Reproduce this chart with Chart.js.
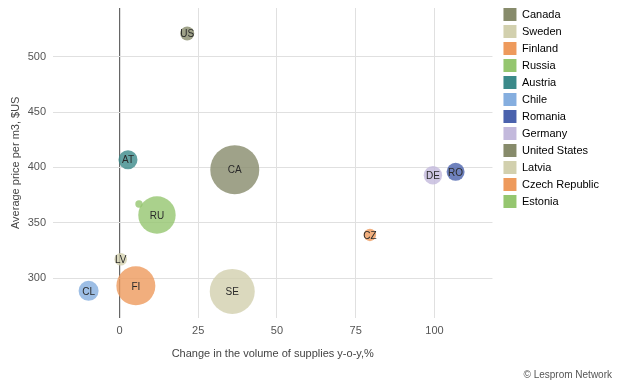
<!DOCTYPE html>
<html>
<head>
<meta charset="utf-8">
<script src="https://cdn.jsdelivr.net/npm/chart.js@4/dist/chart.umd.min.js"></script>
<style>
  html, body { margin: 0; padding: 0; background: #fff; }
  #wrap { position: relative; width: 624px; height: 390px; }
  #credit { position: absolute; right: 12px; top: 369px; font: 10px "Liberation Sans", Arial, sans-serif; color: #555; }
</style>
</head>
<body>
<div id="wrap">
  <canvas id="grafica" width="624" height="390"></canvas>
  <div id="credit">© Lesprom Network</div>
</div>
<script>
// datos
const countries = ["Canada", "Sweden", "Finland", "Russia", "Austria", "Chile", "Romania", "Germany", "United States", "Latvia", "Czech Republic", "Estonia"];
const codes = ["CA", "SE", "FI", "RU", "AT", "CL", "RO", "DE", "US", "LV", "CZ", ""];
const volumeChange = [36.6, 35.8, 5.2, 11.9, 2.7, -9.8, 106.7, 99.5, 21.5, 0.4, 79.5, 6.2];
const avgPrice = [398, 288, 293, 357, 407, 288.5, 396, 393, 521, 317, 339, 367];
const bubbleSize = [24.5, 22.5, 19.5, 18.7, 9.5, 10, 9, 9.2, 7, 6.3, 6.2, 3.7];
const colors = ["#878b6b", "#d2d0ae", "#ee9a5c", "#95c66f", "#3b8a8a", "#85aedf", "#4a62ad", "#c3b9dc", "#878b6b", "#d2d0ae", "#ee9a5c", "#95c66f"];
const xTitle = "Change in the volume of supplies y-o-y,%";
const yTitle = "Average price per m3, $US";

const fuente = "'Liberation Sans', Arial, sans-serif";
Chart.defaults.font.family = fuente;

const alpha = (hex, a) => {
    const n = parseInt(hex.slice(1), 16);
    return `rgba(${n >> 16}, ${(n >> 8) & 255}, ${n & 255}, ${a})`;
};

const datasets = countries.map((c, i) => ({
    label: c,
    data: [{ x: volumeChange[i], y: avgPrice[i], r: bubbleSize[i] }],
    backgroundColor: alpha(colors[i], 0.8),
    borderWidth: 0,
    hoverBorderWidth: 0
}));

// etiquetas dentro de las burbujas
const etiquetas = {
    id: "etiquetas",
    afterDatasetsDraw(chart) {
        const ctx = chart.ctx;
        ctx.save();
        ctx.font = "10px " + fuente;
        ctx.fillStyle = "#2a2a2a";
        ctx.textAlign = "center";
        ctx.textBaseline = "middle";
        chart.data.datasets.forEach((ds, i) => {
            const el = chart.getDatasetMeta(i).data[0];
            if (codes[i]) ctx.fillText(codes[i], el.x, el.y + 1);
        });
        ctx.restore();
    }
};

// mover la leyenda un poco
const moverLeyenda = {
    id: "moverLeyenda",
    afterLayout(chart) {
        const lg = chart.legend;
        lg.left += 7; lg.right += 7;
        lg.top -= 4; lg.bottom -= 4;
    }
};

new Chart(document.querySelector("#grafica"), {
    type: "bubble",
    data: { datasets },
    plugins: [etiquetas, moverLeyenda],
    options: {
        responsive: false,
        animation: false,
        layout: { autoPadding: false, padding: { left: 9, right: 22, top: 8, bottom: 29 } },
        plugins: {
            tooltip: { enabled: false },
            legend: {
                position: "right",
                align: "start",
                labels: {
                    boxWidth: 13,
                    boxHeight: 13,
                    padding: 4,
                    color: "#333",
                    font: { size: 11 },
                    generateLabels: (chart) => countries.map((c, i) => ({
                        text: c,
                        fillStyle: colors[i],
                        strokeStyle: colors[i],
                        lineWidth: 0,
                        datasetIndex: i,
                        hidden: false
                    }))
                }
            }
        },
        scales: {
            x: {
                type: "linear",
                min: -21.1,
                max: 118.4,
                border: { display: false },
                grid: {
                    color: (c) => c.tick && c.tick.value === 0 ? "#666" : "#e0e0e0",
                    lineWidth: (c) => c.tick && c.tick.value === 0 ? 1.2 : 1,
                    drawTicks: false
                },
                ticks: { stepSize: 25, includeBounds: false, color: "#555", font: { size: 11 }, padding: 7 },
                title: { display: true, text: xTitle, color: "#444", font: { size: 11 }, padding: { top: 3, bottom: 0 } }
            },
            y: {
                type: "linear",
                min: 264.3,
                max: 544.1,
                border: { display: false },
                grid: { color: "#e0e0e0", drawTicks: false },
                ticks: { stepSize: 50, includeBounds: false, color: "#555", font: { size: 11 }, padding: 7 },
                title: { display: true, text: yTitle, color: "#444", font: { size: 11 }, padding: { top: 0, bottom: 6 } },
                afterFit: (scale) => { scale.width = 44; scale.paddingTop = 0; scale.paddingBottom = 0; }
            }
        }
    }
});
</script>
</body>
</html>
